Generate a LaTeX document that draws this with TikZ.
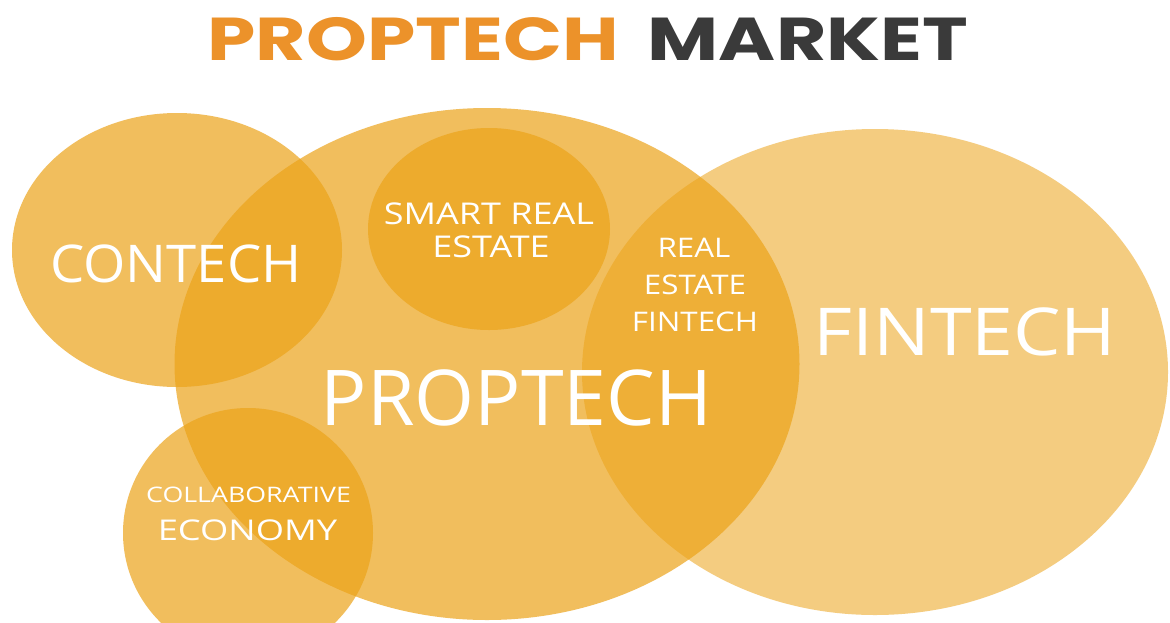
\documentclass[tikz,border=0pt]{standalone}
\usepackage{fontspec}
\usepackage{graphicx}
\setmainfont{Open Sans}
\newfontfamily\titlefont{Poppins}
\usetikzlibrary{shapes.geometric}
\definecolor{blobcol}{RGB}{236,163,25}
\definecolor{titleorange}{RGB}{236,146,42}
\definecolor{titlegray}{RGB}{58,58,58}
% widened text: #1 horizontal factor, #2 font size, #3 text
\newcommand{\widetext}[3]{\scalebox{#1}[1]{\fontsize{#2}{#2}\selectfont #3}}
\tikzset{
  blob/.style={ellipse, draw=none, fill=blobcol, fill opacity=0.70, inner sep=0pt},
  paleblob/.style={blob, fill opacity=0.55},
  lbl/.style={text=white, inner sep=0pt, anchor=base},
  headline/.style={inner sep=0pt, anchor=base, font=\titlefont\bfseries},
}
\begin{document}
\begin{tikzpicture}[x=1pt,y=-1pt]
  \useasboundingbox (0,0) rectangle (1170,622);
  \fill[white] (0,0) rectangle (1170,622);
  \clip (0,0) rectangle (1170,622);

  % heading
  \node[headline, text=titleorange] (title1) at (413,60) {\widetext{1.28}{60.5}{PROPTECH}};
  \node[headline, text=titlegray] (title2) at (808,60) {\widetext{1.28}{60.5}{MARKET}};

  % overlapping circles
  \node[paleblob, minimum width=586, minimum height=486] (fin) at (875,372) {};
  \node[blob, minimum width=625, minimum height=512] (prop) at (487,364) {};
  \node[blob, minimum width=330, minimum height=274] (con) at (177,250) {};
  \node[blob, minimum width=242, minimum height=202] (smart) at (489,229) {};
  \node[blob, minimum width=250, minimum height=250] (collab) at (248,533) {};

  % labels
  \node[lbl] (tcon) at (176,282) {\widetext{1.045}{52}{CONTECH}};
  \node[lbl] (tsmart1) at (489,224) {\widetext{1.2}{30}{SMART REAL}};
  \node[lbl] (tsmart2) at (491,257) {\widetext{1.2}{30}{ESTATE}};
  \node[lbl] (trefin1) at (694,257) {\widetext{1.16}{27}{REAL}};
  \node[lbl] (trefin2) at (695,294) {\widetext{1.16}{27}{ESTATE}};
  \node[lbl] (trefin3) at (695,331) {\widetext{1.16}{27}{FINTECH}};
  \node[lbl] (tfin) at (965,355) {\widetext{1.14}{66}{FINTECH}};
  \node[lbl] (tprop) at (516.5,425) {\widetext{1.0}{77}{PROPTECH}};
  \node[lbl] (tcollab1) at (248.5,502) {\widetext{1.25}{21.4}{COLLABORATIVE}};
  \node[lbl] (tcollab2) at (247.5,540) {\widetext{1.27}{28.6}{ECONOMY}};
\end{tikzpicture}
\end{document}
